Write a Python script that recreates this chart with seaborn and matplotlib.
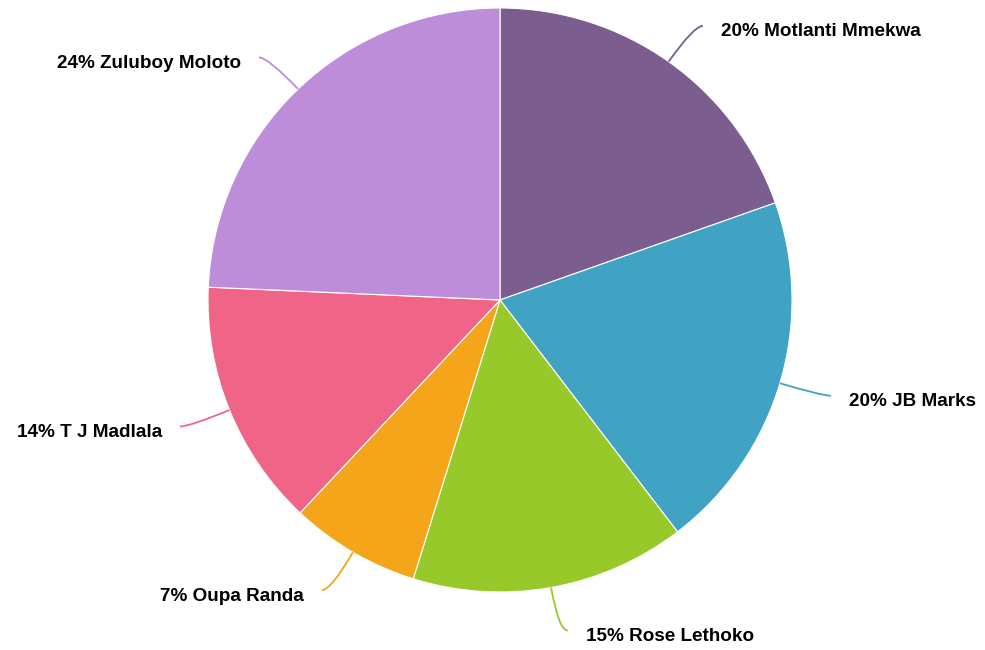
import matplotlib

matplotlib.use("Agg")
import matplotlib.pyplot as plt
import numpy as np
import seaborn as sns
from matplotlib.path import Path
from matplotlib.patches import PathPatch

# slices, clockwise from 12 o'clock
names = ["Motlanti Mmekwa", "JB Marks", "Rose Lethoko", "Oupa Randa",
         "T J Madlala", "Zuluboy Moloto"]
shares = [19.6, 20.0, 15.2, 7.2, 13.7, 24.3]
colors = ["#7B5E8F", "#41A3C3", "#97C92A", "#F5A51A", "#EF6487", "#BE8DDA"]

sns.set_theme(style="white")
plt.rcParams["font.family"] = ["Liberation Sans", "DejaVu Sans"]

W, H = 985, 650
fig = plt.figure(figsize=(W / 100, H / 100), dpi=100)
ax = fig.add_axes([0, 0, 1, 1])

cx, cy, r = 500, H - 300, 292
palette = sns.color_palette(colors)
wedges, _ = ax.pie(shares, colors=palette, startangle=90, counterclock=False,
                   center=(cx, cy), radius=r, frame=True,
                   wedgeprops=dict(edgecolor="white", linewidth=0.8))
ax.set_xlim(0, W)
ax.set_ylim(0, H)
ax.set_aspect("equal")
ax.axis("off")

total = sum(shares)
for w, name, val, col in zip(wedges, names, shares, colors):
    mid = np.deg2rad((w.theta1 + w.theta2) / 2)
    sx, sy = cx + r * np.cos(mid), cy + r * np.sin(mid)
    px, py = cx + 1.15 * r * np.cos(mid), cy + 1.15 * r * np.sin(mid)
    side = 1 if np.cos(mid) >= 0 else -1
    ex, ey = px + side * 9, py
    path = Path([(sx, sy), (px, py), (ex, ey)],
                [Path.MOVETO, Path.CURVE3, Path.CURVE3])
    ax.add_patch(PathPatch(path, fill=False, edgecolor=col, linewidth=1.3))
    label = f"{round(val / total * 100):.0f}% {name}"
    ax.text(ex + side * 18, ey - 6, label, ha="left" if side > 0 else "right",
            va="center", fontsize=13.6, fontweight="bold", color="black")

fig.savefig("out.png", dpi=100)
